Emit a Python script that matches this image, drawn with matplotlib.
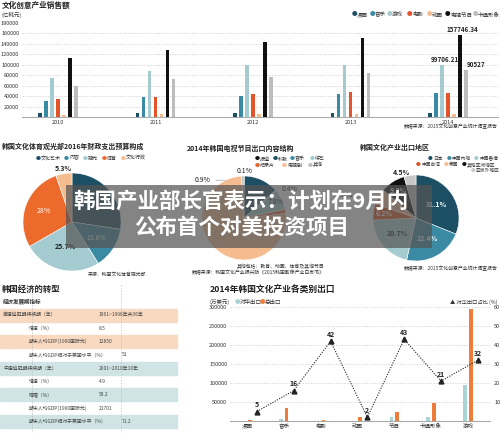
import numpy as np
import matplotlib
matplotlib.use("Agg")
import matplotlib.pyplot as plt
from matplotlib.patches import Rectangle
from matplotlib.lines import Line2D

plt.rcParams['font.family'] = ['Noto Sans CJK SC', 'DejaVu Sans']

# -------------------------------------------------------------------
# Data read off the infographic
# -------------------------------------------------------------------
years = ["2010", "2011", "2012", "2013", "2014"]
sales_names = ["漫画", "音乐", "游戏", "电影", "动画", "电视节目", "卡通形象"]
sales_comic = [7000, 7500, 7500, 8000, 8500]
sales_music = [30000, 38000, 40500, 43500, 46500]
sales_game = [75000, 88500, 99000, 99000, 99706.21]
sales_film = [34000, 38500, 45000, 48000, 46000]
sales_anim = [4500, 4800, 5000, 5200, 5500]
sales_tv = [113500, 129000, 143000, 151000, 157746.34]
sales_char = [59000, 72000, 76000, 84000, 90527]

budget_names = ["文化艺术", "内容", "观光", "体育", "文化行政"]
budget_pct = [27.4, 13.6, 25.7, 28.0, 5.3]

tvexp_names = ["报道", "科教", "音乐", "综艺", "纪录片", "电视剧", "其他"]
tvexp_pct = [0.1, 13.4, 0.4, 7.8, 1.6, 75.8, 0.9]

region_names = ["日本", "中国内地", "中国香港", "中国台湾", "泰国", "其他亚洲地区", "亚洲外地区"]
region_pct = [31.1, 22.4, 20.7, 6.2, 5.8, 9.3, 4.5]

table_labels = ["高速追赶期持续期（年）", "增速（%）", "期末人均GDP(1990国际元)",
                "期末人均GDP相对于美国水平（%）", "中速追赶期持续期（年）", "增速（%）",
                "降幅（%）", "期末人均GDP(1990国际元)", "期末人均GDP相对于美国水平（%）"]
table_values = ["1961~1996年共36年", "8.5", "12850", "51", "2001~2010年10年",
                "4.9", "58.2", "21701", "71.2"]

export_cats = ["漫画", "音乐", "电影", "动画", "节目", "卡通形象", "游戏"]
export_china = [150, 5300, 1100, 230, 10300, 10100, 94000]
export_total = [2900, 33000, 2600, 11500, 24000, 48000, 296000]
china_ratio = [5, 16, 42, 2, 43, 21, 32]

# -------------------------------------------------------------------
# Helpers (pixel layout -> figure fractions)
# -------------------------------------------------------------------
W, H = 500, 433
fig = plt.figure(figsize=(5, 4.33), dpi=100)
fig.patch.set_facecolor("white")


def box(x0, y0, x1, y1):
    return [x0 / W, 1 - y1 / H, (x1 - x0) / W, (y1 - y0) / H]


def ftext(x, y, s, **kw):
    kw.setdefault("fontsize", 4)
    kw.setdefault("color", "#333333")
    kw.setdefault("va", "center")
    return fig.text(x / W, 1 - y / H, s, **kw)


def legend_row(xs, y, names, colors, fs=4):
    for x, n, c in zip(xs, names, colors):
        ftext(x, y, "●", color=c, fontsize=fs)
        ftext(x + 5, y, n, fontsize=fs)


DK, TE, LT = "#1c4f63", "#3a8aa3", "#a4cbd0"
OR, PE, BK, GR = "#e3542a", "#f5bd8f", "#111111", "#bdbdbd"

# -------------------------------------------------------------------
# 1) Grouped bars - 文化创意产业销售额
# -------------------------------------------------------------------
ftext(2, 5, "文化创意产业销售额", fontsize=5.5, fontweight="bold", color="#222")
ftext(2, 15, "(亿韩元)", fontsize=4)
sales_colors = [DK, TE, LT, OR, PE, BK, GR]
legend_row([352, 370, 387, 407, 427, 445, 473], 15, sales_names, sales_colors)

ax1 = fig.add_axes(box(22, 23, 498, 117))
series = [sales_comic, sales_music, sales_game, sales_film, sales_anim, sales_tv, sales_char]
xg = np.arange(len(years))
for k, (vals, c) in enumerate(zip(series, sales_colors)):
    ax1.bar(xg + (k - 3) * 0.0615, vals, width=0.037, color=c, zorder=3)
ax1.set_xlim(-0.369, 4.513)
ax1.set_ylim(0, 180000)
ax1.set_yticks(np.arange(20000, 180001, 20000))
ax1.set_xticks(xg, years)
ax1.tick_params(axis="both", length=0, labelsize=4, colors="#333", pad=2)
ax1.grid(axis="y", color="#c8c8c8", lw=0.5, ls=(0, (2, 2)))
ax1.get_ygridlines()[-1].set_visible(False)
for s in ["top", "right", "left"]:
    ax1.spines[s].set_visible(False)
ax1.spines["bottom"].set_color("#aaaaaa")

for vals, k, dx in [(sales_game, 2, 2), (sales_tv, 5, 2), (sales_char, 6, 7)]:
    ax1.annotate(str(vals[-1]), (4 + (k - 3) * 0.0615, vals[-1]), xytext=(dx, 1.5),
                 textcoords="offset points", ha="center", va="bottom",
                 fontsize=4.5, fontweight="bold", color="#222")
ftext(498, 127, "数据来源：2015文化创意产业统计调查报告", fontsize=3.5, ha="right")

# -------------------------------------------------------------------
# 2) Three pies
# -------------------------------------------------------------------
def draw_pie(cx, cy, r, vals, colors):
    ax = fig.add_axes(box(cx - r * 1.05, cy - r * 1.05, cx + r * 1.05, cy + r * 1.05))
    wedges, _ = ax.pie(vals, colors=colors, startangle=90, counterclock=False,
                       wedgeprops=dict(edgecolor="white", linewidth=0.4))
    ax.set_xlim(-1.05, 1.05)
    ax.set_ylim(-1.05, 1.05)
    ax.set_aspect("equal")
    return ax, wedges


def wedge_label(ax, w, v, rad, turn=0, **kw):
    a = np.deg2rad((w.theta1 + w.theta2) / 2 + turn)
    kw.setdefault("fontsize", 5)
    ax.text(rad * np.cos(a), rad * np.sin(a), f"{v:g}%", ha="center", va="center", **kw)


# pie 1
ftext(2, 146, "韩国文化体育观光部2016年财政支出预算构成", fontsize=5, fontweight="bold", color="#222")
budget_colors = [DK, TE, LT, "#ec6a2c", PE]
legend_row([36, 64, 83, 102, 121], 158, budget_names, budget_colors, fs=3.6)
axp1, w1 = draw_pie(72, 222, 49, budget_pct, budget_colors)
for w, v, rad, col in zip(w1, budget_pct, [0.6, 0.6, 0.52, 0.62, 1.1],
                          ["white", "white", "#222", "white", "#222"]):
    if v == budget_pct[0]:
        continue
    wedge_label(axp1, w, v, rad, color=col, fontweight="bold" if col == "#222" else "normal")
ftext(88, 274, "来源：韩国文化体育观光部", fontsize=3.5)

# pie 2
ftext(187, 148, "2014年韩国电视节目出口内容结构", fontsize=5, fontweight="bold", color="#222")
tv_colors = [BK, DK, TE, LT, "#e2632e", PE, GR]
legend_row([255, 273, 290, 310], 159, tvexp_names[:4], tv_colors[:4], fs=3.6)
legend_row([255, 282, 308], 165, tvexp_names[4:], tv_colors[4:], fs=3.6)
axp2, w2 = draw_pie(244, 218, 42, tvexp_pct, tv_colors)
wedge_label(axp2, w2[0], tvexp_pct[0], 1.12, color="#222")
wedge_label(axp2, w2[2], tvexp_pct[2], 1.3, turn=-8, color="#222")
wedge_label(axp2, w2[3], tvexp_pct[3], 0.85, color="#222")
a6 = np.deg2rad((w2[6].theta1 + w2[6].theta2) / 2)
axp2.annotate(f"{tvexp_pct[6]:g}%", (np.cos(a6) * 0.98 - 0.35, 0.9), xytext=(-0.8, 0.9),
              textcoords="data", ha="right", va="center", fontsize=5, color="#222",
              arrowprops=dict(arrowstyle="-", lw=0.4, color="#888"), annotation_clip=False)
ftext(325, 267, "其他包括：教育、动画、体育及其他节目", fontsize=3.5, ha="right")
ftext(325, 273, "数据来源：韩国文化产业振兴院《2015韩国影像产业白皮书》", fontsize=3.5, ha="right")

# pie 3
ftext(360, 147, "韩国文化产业出口地区", fontsize=5, fontweight="bold", color="#222")
region_colors = [DK, TE, LT, "#d9531e", PE, BK, "#c8c8c8"]
legend_row([428, 447, 474], 158, region_names[:3], region_colors[:3], fs=3.4)
legend_row([416, 444, 462], 164.5, region_names[3:6], region_colors[3:6], fs=3.4)
legend_row([471], 171, region_names[6:], region_colors[6:], fs=3.4)
axp3, w3 = draw_pie(416, 218, 43, region_pct, region_colors)
for w, v, rad, turn, col in zip(w3, region_pct,
                                [0.57, 0.55, 0.56, 0.75, 1.75, 0.75, 1.12],
                                [0, 0, 0, 0, 12, 0, 10],
                                ["white", "white", "#222", "white", "#222", "white", "#222"]):
    wedge_label(axp3, w, v, rad, turn=turn, color=col, fontweight="bold")
ftext(498, 269, "数据来源：2015文化创意产业统计调查报告", fontsize=3.5, ha="right")

# -------------------------------------------------------------------
# 3) Table - 韩国经济的转型
# -------------------------------------------------------------------
ftext(2, 289, "韩国经济的转型", fontsize=6, fontweight="bold", color="#222")
ftext(3, 301, "经济发展期指标", fontsize=4, fontweight="bold", color="#333")
for i, (lab, val) in enumerate(zip(table_labels, table_values)):
    yc = 315 + i * 13.3
    if i % 2 == 0:
        band = "#f9d9bf" if i < 4 else "#d0e4e6"
        fig.add_artist(Rectangle((0, 1 - (yc + 6.5) / H), 177 / W, 13 / H,
                                 transform=fig.transFigure, color=band, zorder=0))
    lx = 3 if i in (0, 4) else 29
    vx = 122 if "美国" in lab else 99
    ftext(lx, yc, lab, fontsize=3.5, color="#444")
    ftext(vx, yc, val, fontsize=3.5, color="#444")
for x in (32, 121):
    fig.add_artist(Line2D([x / W, x / W], [1 - 285 / H, 0], transform=fig.transFigure,
                          color="#bbbbbb", lw=0.5, ls=(0, (2, 2))))

# -------------------------------------------------------------------
# 4) Bars + line - 2014年韩国文化产业各类别出口
# -------------------------------------------------------------------
ftext(210, 290, "2014年韩国文化产业各类别出口", fontsize=6.3, fontweight="bold", color="#222")
ftext(210, 302, "(万美元)", fontsize=4)
legend_row([235, 260], 302, ["对华出口", "总出口"], ["#a9d3d4", "#ee7d3a"])
ftext(498, 302, "▲ 对华出口占比 (%)", fontsize=3.8, ha="right")

ax4 = fig.add_axes(box(230, 307, 490, 421))
xc = np.arange(len(export_cats))
ax4.bar(xc - 0.077, export_china, width=0.1, color="#a9d3d4", zorder=3)
ax4.bar(xc + 0.077, export_total, width=0.1, color="#ee7d3a", zorder=3)
ax4.set_xlim(-0.46, 6.6)
ax4.set_ylim(0, 300000)
ax4.set_yticks(np.arange(50000, 300001, 50000))
ax4.set_xticks(xc, export_cats)
ax4.tick_params(axis="both", length=0, labelsize=4, colors="#333", pad=2)
ax4.grid(axis="y", color="#c8c8c8", lw=0.5, ls=(0, (2, 2)))
for s in ["top", "right", "left"]:
    ax4.spines[s].set_visible(False)
ax4.spines["bottom"].set_color("#aaaaaa")

ax4r = ax4.twinx()
ax4r.set_ylim(0, 60)
ax4r.set_yticks(range(10, 61, 10))
ax4r.tick_params(axis="y", length=0, labelsize=4, colors="#333", pad=3)
for s in ax4r.spines.values():
    s.set_visible(False)
ax4r.plot(xc + 0.27, china_ratio, ls=(0, (1, 1.3)), color="#222", lw=0.8,
          marker="^", ms=3.5, zorder=4)
for x, v in zip(xc + 0.27, china_ratio):
    ax4r.annotate(str(v), (x, v), xytext=(0, 2.5), textcoords="offset points",
                  ha="center", va="bottom", fontsize=5, fontweight="bold", color="#222")

# -------------------------------------------------------------------
# 5) Headline banner on top
# -------------------------------------------------------------------
fig.add_artist(Rectangle((66 / W, 1 - 248 / H), 366 / W, 63 / H, transform=fig.transFigure,
                         facecolor="#555555", alpha=0.72, edgecolor="none", zorder=10))
ftext(241, 201, "韩国产业部长官表示：计划在9月内", fontsize=15.5, fontweight="bold",
      color="white", ha="center", zorder=11)
ftext(242, 227, "公布首个对美投资项目", fontsize=15.5, fontweight="bold",
      color="white", ha="center", zorder=11)

fig.savefig("out.png", dpi=100)
